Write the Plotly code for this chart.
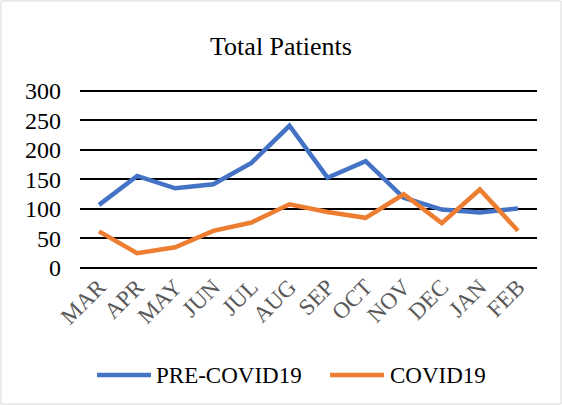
import plotly.graph_objects as go

months = ["MAR", "APR", "MAY", "JUN", "JUL", "AUG", "SEP", "OCT", "NOV", "DEC", "JAN", "FEB"]
pre_covid = [107, 156, 135, 142, 178, 241, 153, 181, 119, 99, 94, 101]
covid = [62, 25, 35, 63, 77, 108, 95, 85, 125, 76, 133, 63]
y_ticks = [0, 50, 100, 150, 200, 250, 300]
series = [("PRE-COVID19", pre_covid, "#4472C4"), ("COVID19", covid, "#ED7D31")]

W, H = 562, 405
YMAX = 305
px_per_unit = (268 - 91) / 300
L, R, B = 80, 25, 137
ph = YMAX * px_per_unit
T = H - B - ph
pw = W - L - R

def px_x(x):
    return (x - L) / pw

def px_y(y):
    return (H - B - y) / ph

fig = go.Figure()
for name, vals, color in series:
    fig.add_trace(go.Scatter(x=months, y=vals, mode="lines", name=name,
                             line=dict(color=color, width=4.5), showlegend=False))

fig.update_layout(
    width=W, height=H,
    margin=dict(l=L, r=R, t=T, b=B, autoexpand=False),
    paper_bgcolor="white", plot_bgcolor="white",
    font=dict(family="Liberation Serif, Times New Roman, serif", color="black"),
    title=dict(text="Total Patients", x=0.5, xanchor="center", y=1 - 46 / H, yanchor="middle",
               font=dict(size=26, color="black")),
    showlegend=False,
    xaxis=dict(showgrid=False, tickangle=-45, tickfont=dict(size=23, color="#595959"),
               showline=False, ticks="", range=[-0.5, 11.5], automargin=False),
    yaxis=dict(range=[0, YMAX], tickvals=y_ticks, showgrid=True, gridcolor="black", gridwidth=1.6,
               zeroline=True, zerolinecolor="black", zerolinewidth=1.6,
               tickfont=dict(size=24, color="black"), ticks="", showline=False,
               ticklabelstandoff=18, automargin=False),
)

# manual legend (matches the longer legend line keys of the original)
legend_items = [(97, 151, 154), (330, 384, 388)]
for (x0, x1, xt), (name, _, color) in zip(legend_items, series):
    fig.add_shape(type="line", xref="paper", yref="paper",
                  x0=px_x(x0), x1=px_x(x1), y0=px_y(375), y1=px_y(375),
                  line=dict(color=color, width=4.5))
    fig.add_annotation(text=name, xref="paper", yref="paper", x=px_x(xt), y=px_y(375),
                       xanchor="left", yanchor="middle", showarrow=False,
                       font=dict(size=23, color="black"))

fig.add_shape(type="rect", xref="paper", yref="paper",
              x0=px_x(1), x1=px_x(W - 1), y0=px_y(H - 1), y1=px_y(1),
              line=dict(color="#D9D9D9", width=1), layer="below")

fig.write_html("out.html", config={"displayModeBar": False},
               post_script="document.body.style.margin='0';document.body.style.overflow='hidden';")
